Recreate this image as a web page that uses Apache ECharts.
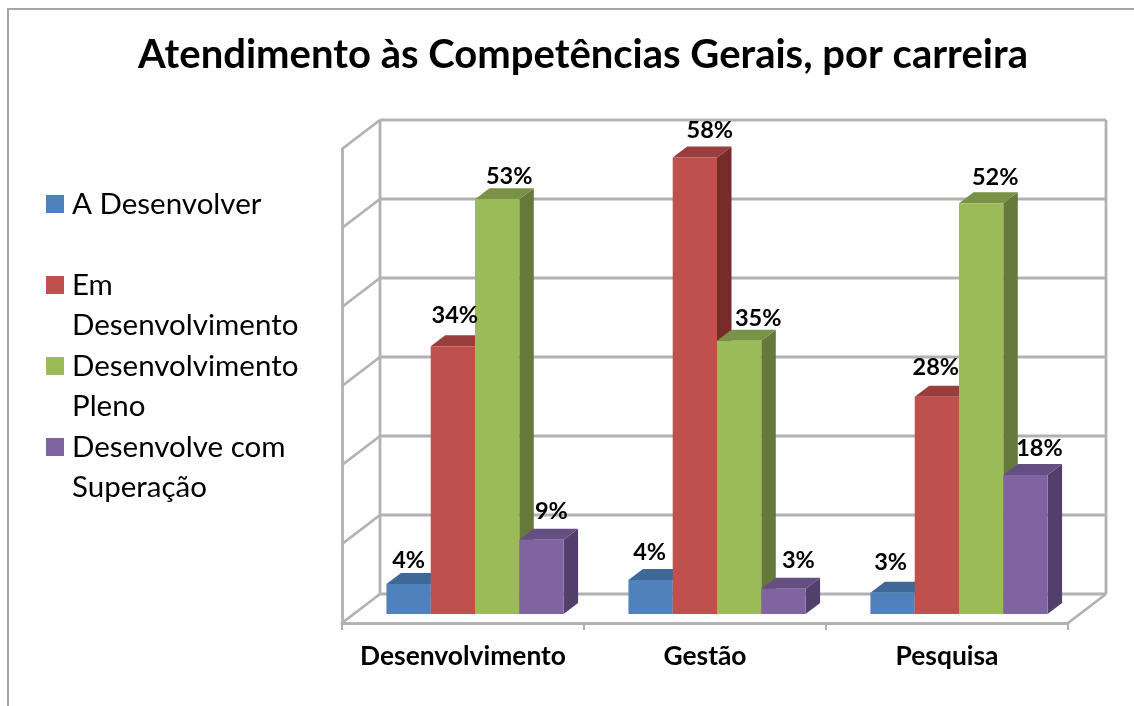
<!DOCTYPE html>
<html>
<head>
<meta charset="utf-8">
<script src="https://cdn.jsdelivr.net/npm/echarts@6/dist/echarts.min.js"></script>
<style>
  html, body { margin: 0; padding: 0; background: #fff; }
  #chart { width: 1134px; height: 706px; }
</style>
</head>
<body>
<div id="chart"></div>
<script>
const chartTitle = 'Atendimento às Competências Gerais, por carreira';
const categories = ['Desenvolvimento', 'Gestão', 'Pesquisa'];
const seriesNames = ['A Desenvolver', 'Em\nDesenvolvimento', 'Desenvolvimento\nPleno', 'Desenvolve com\nSuperação'];
// bar heights, the labels show them rounded
const aDesenvolver = [3.8, 4.3, 2.7];
const emDesenvolvimento = [33.9, 57.8, 27.5];
const desenvolvimentoPleno = [52.5, 34.6, 52.0];
const desenvolveSuperacao = [9.4, 3.2, 17.6];
const valueTicks = [0, 10, 20, 30, 40, 50, 60];

const seriesValues = [aDesenvolver, emDesenvolvimento, desenvolvimentoPleno, desenvolveSuperacao];
const frontColors = ['#4f81bd', '#c0504d', '#9bbb59', '#8064a2'];
const topColors = ['#3f6797', '#993e3c', '#7a9248', '#654f82'];
const sideColors = ['#385d8a', '#772c2a', '#65793a', '#533f6c'];

// 3d look: pixels the back wall and the bars are pushed away from the front plane
const wallDepth = [38, -29];
const barShift = [12, -9];
const barDepth = [14.5, -11];
const wallColor = '#b2b2b2';
// where each data label sits relative to the top of its bar, per series then category
const labelNudge = [
  [[0, -24], [-1, -28], [-2, -30]],
  [[2, -31], [15, -27], [-1, -29]],
  [[12, -23], [19, -22], [14, -26]],
  [[10, -28], [15, -28], [14, -27]]
];

function wallLine(x1, y1, x2, y2) {
  return {
    type: 'line',
    shape: { x1, y1, x2, y2 },
    style: { stroke: wallColor, lineWidth: 2.8, fill: null }
  };
}

function renderWalls(params, api) {
  const band = api.size([1, 0])[0];
  const v = api.value(1);
  const left = api.coord([0, v]);
  const xl = left[0] - band / 2;
  const xr = api.coord([categories.length - 1, v])[0] + band / 2;
  const y = left[1];
  const dx = wallDepth[0];
  const dy = wallDepth[1];
  const items = [
    wallLine(xl + dx, y + dy, xr + dx, y + dy),
    wallLine(xl, y, xl + dx, y + dy)
  ];
  if (v === 0) {
    const yTop = api.coord([0, valueTicks[valueTicks.length - 1]])[1];
    items.push(wallLine(xl + dx, y + dy, xl + dx, yTop + dy));
    items.push(wallLine(xr + dx, y + dy, xr + dx, yTop + dy));
    items.push(wallLine(xr, y, xr + dx, y + dy));
  }
  return { type: 'group', children: items };
}

function renderBar(s) {
  return function (params, api) {
    const band = api.size([1, 0])[0];
    const w = band * 0.183;
    const cat = api.value(0);
    const val = api.value(1);
    const top = api.coord([cat, val]);
    const base = api.coord([cat, 0]);
    const x0 = top[0] - 2 * w + s * w + barShift[0];
    const x1 = x0 + w;
    const y0 = top[1] + barShift[1];
    const y1 = base[1] + barShift[1];
    const dx = barDepth[0];
    const dy = barDepth[1];
    const nudge = labelNudge[s][cat];
    return {
      type: 'group',
      children: [
        {
          type: 'polygon',
          shape: { points: [[x1, y0], [x1 + dx, y0 + dy], [x1 + dx, y1 + dy], [x1, y1]] },
          style: { fill: sideColors[s] }
        },
        {
          type: 'polygon',
          shape: { points: [[x0, y0], [x0 + dx, y0 + dy], [x1 + dx, y0 + dy], [x1, y0]] },
          style: { fill: topColors[s] }
        },
        {
          type: 'rect',
          shape: { x: x0, y: y0, width: w, height: y1 - y0 },
          style: { fill: frontColors[s] }
        },
        {
          type: 'text',
          z2: 50,
          style: {
            x: x0 + w / 2 + nudge[0],
            y: y0 + nudge[1],
            text: Math.round(val) + '%',
            fill: '#000',
            font: 'bold 23.5px Lato',
            align: 'center',
            verticalAlign: 'middle'
          }
        }
      ]
    };
  };
}

const chart = echarts.init(document.getElementById('chart'), null, { renderer: 'canvas' });

const barSeries = seriesNames.map((name, s) => ({
  name,
  type: 'custom',
  coordinateSystem: 'cartesian2d',
  renderItem: renderBar(s),
  itemStyle: { color: frontColors[s] },
  encode: { x: 0, y: 1 },
  data: seriesValues[s].map((v, i) => [i, v])
}));

// marker sits beside the first text line, the path's empty points stretch it to the item height
const legendIcon = 'path://M0 11H18V29H0Z M0 0H0V0Z M0 80H0V80Z';

chart.setOption({
  animation: false,
  color: frontColors,
  title: {
    text: chartTitle,
    left: 578,
    top: 30,
    textAlign: 'center',
    textStyle: { fontFamily: 'Lato', fontWeight: 'bold', fontSize: 40, color: '#000' }
  },
  legend: {
    orient: 'vertical',
    left: 46,
    top: 184,
    padding: 0,
    itemWidth: 18,
    itemHeight: 80,
    itemGap: 1,
    selectedMode: false,
    icon: legendIcon,
    data: seriesNames,
    formatter: name => name.includes('\n') ? name : name + '\n ',
    textStyle: { fontFamily: 'Lato', fontSize: 29.5, lineHeight: 40, color: '#000', padding: [0, 0, 0, 3] }
  },
  grid: { left: 342, right: 66, top: 149, bottom: 83 },
  xAxis: {
    type: 'category',
    data: categories,
    axisLine: { lineStyle: { color: wallColor, width: 2.8 } },
    axisTick: { show: true, interval: 0, length: 7, lineStyle: { color: wallColor, width: 2 } },
    axisLabel: { interval: 0, margin: 20, fontFamily: 'Lato', fontWeight: 'bold', fontSize: 26.4, color: '#000' }
  },
  yAxis: {
    type: 'value',
    min: 0,
    max: 60,
    interval: 10,
    axisLine: { show: true, lineStyle: { color: wallColor, width: 2.8 } },
    axisTick: { show: false },
    axisLabel: { show: false },
    splitLine: { show: false }
  },
  graphic: [{
    type: 'rect',
    silent: true,
    z: -1,
    shape: { x: 8, y: 9, width: 2000, height: 2000 },
    style: { fill: null, stroke: '#a6a6a6', lineWidth: 2 }
  }],
  series: [{
    type: 'custom',
    coordinateSystem: 'cartesian2d',
    silent: true,
    renderItem: renderWalls,
    encode: { x: 0, y: 1 },
    data: valueTicks.map(v => [0, v])
  }].concat(barSeries)
});
</script>
</body>
</html>
